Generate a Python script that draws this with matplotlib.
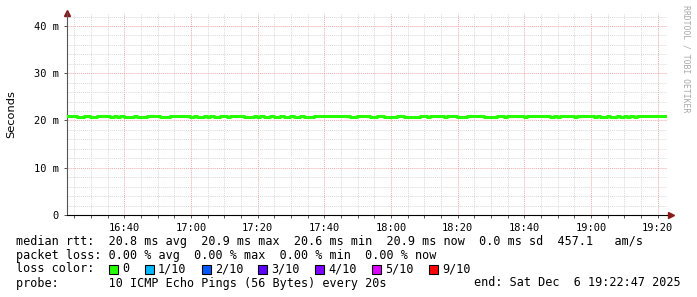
import numpy as np
import matplotlib
matplotlib.use("Agg")
import matplotlib.pyplot as plt
import matplotlib.dates as mdates

# median rtt (ms), one value per minute starting at 16:22:47
start = np.datetime64("2025-12-06T16:22:47")
end = np.datetime64("2025-12-06T19:22:47")
median_ms = [
    20.9, 20.9, 20.9, 20.8, 20.8, 20.9, 20.9, 20.8, 20.8, 20.9, 20.9, 20.9, 20.9, 20.8, 20.9, 20.8, 20.9, 20.8, 20.8, 20.8,
    20.9, 20.8, 20.8, 20.8, 20.9, 20.9, 20.9, 20.9, 20.8, 20.8, 20.8, 20.9, 20.9, 20.9, 20.9, 20.9, 20.9, 20.8, 20.9, 20.8,
    20.8, 20.9, 20.8, 20.9, 20.8, 20.8, 20.9, 20.9, 20.8, 20.9, 20.9, 20.9, 20.9, 20.8, 20.8, 20.8, 20.9, 20.8, 20.9, 20.8,
    20.8, 20.9, 20.8, 20.8, 20.9, 20.8, 20.8, 20.9, 20.8, 20.8, 20.9, 20.8, 20.8, 20.8, 20.9, 20.9, 20.9, 20.9, 20.9, 20.9,
    20.9, 20.9, 20.9, 20.9, 20.9, 20.8, 20.8, 20.9, 20.9, 20.9, 20.9, 20.8, 20.8, 20.9, 20.9, 20.8, 20.8, 20.8, 20.8, 20.9,
    20.9, 20.8, 20.8, 20.8, 20.8, 20.8, 20.9, 20.9, 20.8, 20.9, 20.9, 20.9, 20.9, 20.8, 20.9, 20.9, 20.9, 20.8, 20.8, 20.8,
    20.9, 20.9, 20.9, 20.9, 20.9, 20.8, 20.8, 20.8, 20.8, 20.9, 20.9, 20.8, 20.9, 20.9, 20.9, 20.9, 20.9, 20.8, 20.9, 20.9,
    20.9, 20.9, 20.9, 20.9, 20.9, 20.8, 20.9, 20.8, 20.9, 20.9, 20.9, 20.9, 20.8, 20.9, 20.9, 20.9, 20.9, 20.9, 20.8, 20.9,
    20.8, 20.8, 20.9, 20.8, 20.8, 20.9, 20.8, 20.9, 20.8, 20.9, 20.8, 20.9, 20.9, 20.9, 20.9, 20.9, 20.9, 20.9, 20.9, 20.9,
]
ytick_vals = [0, 10, 20, 30, 40]
ytick_labels = ["0", "10 m", "20 m", "30 m", "40 m"]
loss_labels = ["0", "1/10", "2/10", "3/10", "4/10", "5/10", "9/10"]
loss_colors = ["#26ff00", "#00b8ff", "#0059ff", "#5e00ff", "#7e00ff", "#dd00ff", "#ff0000"]

legend_lines = [
    "median rtt:  20.8 ms avg  20.9 ms max  20.6 ms min  20.9 ms now  0.0 ms sd  457.1   am/s",
    "packet loss: 0.00 % avg  0.00 % max  0.00 % min  0.00 % now",
    "loss color:",
    "probe:       10 ICMP Echo Pings (56 Bytes) every 20s",
]
end_label = "end: Sat Dec  6 19:22:47 2025"

W, H = 697, 297
MONO = "DejaVu Sans Mono"


def fx(x):
    return x / W


def fy(y):
    return 1 - y / H


fig = plt.figure(figsize=(W / 100, H / 100), dpi=100)
ax = fig.add_axes([fx(67), fy(215), 600 / W, 202 / H])

times = start + np.arange(len(median_ms)) * np.timedelta64(60, "s")
times = np.append(times, times[-1] + np.timedelta64(30, "s"))
vals = np.append(median_ms, median_ms[-1])
t = mdates.date2num(times.astype("datetime64[s]").astype(object))
ax.step(t, vals, where="post", color="#26ff00", lw=2.2, zorder=3)

ax.set_xlim(mdates.date2num(start.astype(object)), mdates.date2num(end.astype(object)))
ax.set_ylim(0, 42.75)

ax.xaxis.set_major_locator(mdates.MinuteLocator(byminute=[0, 20, 40]))
ax.xaxis.set_minor_locator(mdates.MinuteLocator(byminute=range(0, 60, 5)))
ax.xaxis.set_major_formatter(mdates.DateFormatter("%H:%M"))
ax.set_yticks(ytick_vals)
ax.set_yticklabels(ytick_labels)
ax.set_yticks(np.arange(0, 43, 2), minor=True)

ax.grid(which="minor", color="#dadada", linestyle=(0, (1, 1)), lw=0.7)
ax.grid(which="major", color="#eeaaaa", linestyle=(0, (1, 1)), lw=0.7)
ax.set_axisbelow(True)

for s in ["top", "right"]:
    ax.spines[s].set_visible(False)
ax.spines["left"].set_color("#555555")
ax.spines["bottom"].set_color("black")
ax.tick_params(which="both", direction="out", color="#555555", width=0.7, labelsize=7.5)
ax.tick_params(which="major", length=2, pad=4)
ax.tick_params(axis="x", which="minor", length=2)
ax.tick_params(axis="y", which="minor", length=0)
for lab in ax.get_xticklabels() + ax.get_yticklabels():
    lab.set_family(MONO)

# axis arrows
ax.plot([0], [1.0], marker="^", color="#8b1a1a", ms=4, transform=ax.transAxes, clip_on=False)
ax.plot([1.006], [0], marker=">", color="#8b1a1a", ms=4, transform=ax.transAxes, clip_on=False)

fig.text(fx(11), fy(114), "Seconds", rotation=90, ha="center", va="center", fontsize=8.2)
fig.text(fx(686), fy(5), "RRDTOOL / TOBI OETIKER", rotation=270, ha="center", va="top",
         fontsize=5.9, family=MONO, color="#a8a8a8")

cw = 7.1
rows = [241, 255, 269, 283]
for line, y in zip(legend_lines, rows):
    fig.text(fx(16), fy(y), line, family=MONO, fontsize=8.5, va="center", ha="left")
fig.text(fx(681), fy(283), end_label, family=MONO, fontsize=8.5, va="center", ha="right")

# loss colour boxes
col = 13
for lab, c in zip(loss_labels, loss_colors):
    x0 = 16 + col * cw
    fig.patches.append(plt.Rectangle((fx(x0 + 1), fy(274)), 9 / W, 9 / H, transform=fig.transFigure,
                                     facecolor=c, edgecolor="black", lw=0.8))
    fig.text(fx(x0 + 2 * cw), fy(269), lab, family=MONO, fontsize=8.5, va="center", ha="left")
    col += 2 + len(lab) + 2

fig.savefig("out.png", dpi=100)
